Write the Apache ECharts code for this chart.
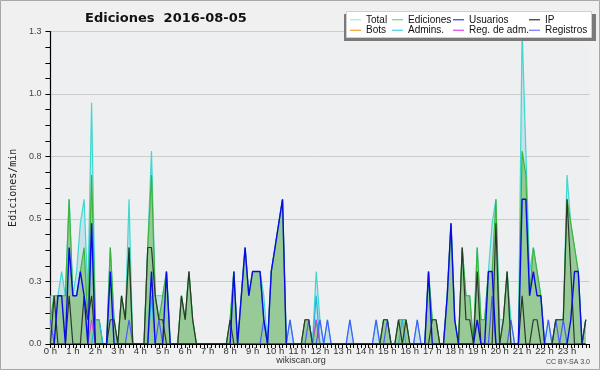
<!DOCTYPE html>
<html><head><meta charset="utf-8">
<script src="https://cdn.jsdelivr.net/npm/echarts@6/dist/echarts.min.js"></script>
<style>html,body{margin:0;padding:0;background:#f0f0f0}#c{width:600px;height:370px}</style>
</head><body><div id="c"></div>
<script>
const hourLabels = ['0 h','1 h','2 h','3 h','4 h','5 h','6 h','7 h','8 h','9 h','10 h','11 h','12 h','13 h','14 h','15 h','16 h','17 h','18 h','19 h','20 h','21 h','22 h','23 h'];
const yTickLabels = ['0.0','0.3','0.5','0.8','1.0','1.3'];
const minuteSteps = ['00','10','20','30','40','50'];
const seriesNames = ['Total','Ediciones','Usuarios','IP','Bots','Admins.','Reg. de adm.','Registros'];

const total = [
.193,.193,.193,.29,.193,.579,.193,.29,.483,.579,.193,.965,
.097,.097,0,0,.386,.097,0,.193,.097,.579,0,0,
0,0,.386,.772,.193,.193,.193,.29,0,0,0,.193,
.097,.29,.097,0,0,0,0,0,0,0,0,0,
.097,.29,0,.193,.386,.193,.29,.29,.29,.193,0,.29,
.386,.483,.579,0,.097,0,0,0,.097,.097,0,.29,
.097,0,.097,0,0,0,0,0,.097,0,0,0,
0,0,0,.097,0,.097,.097,0,0,.097,.097,.097,
0,0,.097,0,0,.29,.097,.097,0,0,.193,.483,
.097,0,.386,.193,.193,0,.386,.097,.097,.29,.483,.579,
.097,.097,.29,.097,0,0,1.255,.772,.29,.386,.29,.193,
0,.097,0,.097,.097,.097,.676,.483,.386,.29,0,.097];

const ediciones = [
.097,.193,.193,.193,.193,.579,.193,.193,.29,.386,.097,.676,
.097,.097,0,0,.386,.097,0,.193,.097,.386,0,0,
0,0,.386,.676,.193,.097,.193,.29,0,0,0,.193,
.097,.29,.097,0,0,0,0,0,0,0,0,0,
.097,.29,0,.193,.386,.193,.29,.29,.29,.097,0,.29,
.386,.483,.579,0,0,0,0,0,.097,.097,0,.097,
0,0,0,0,0,0,0,0,0,0,0,0,
0,0,0,0,0,.097,.097,0,0,.097,.097,.097,
0,0,0,0,0,.29,.097,.097,0,0,.193,.483,
.097,0,.386,.193,.193,0,.386,.097,.097,.29,.29,.579,
0,.097,.29,0,0,0,.772,.676,.193,.386,.29,.193,
0,0,0,.097,.097,.097,.579,.483,.386,.29,0,.097];

const usuarios = [
0,0,.193,.193,0,.386,.193,.193,.29,.193,0,.483,
0,0,0,0,.29,0,0,0,0,0,0,0,
0,0,0,.29,0,0,0,.29,0,0,0,0,
0,0,0,0,0,0,0,0,0,0,0,0,
0,.29,0,.193,.386,.193,.29,.29,.29,.097,0,.29,
.386,.483,.579,0,0,0,0,0,0,0,0,0,
0,0,0,0,0,0,0,0,0,0,0,0,
0,0,0,0,0,0,0,0,0,0,0,0,
0,0,0,0,0,.29,0,0,0,0,.193,.483,
.097,0,0,0,0,0,.097,0,0,.29,.29,0,
0,0,0,0,0,0,.579,.579,.193,.29,.193,.193,
0,0,0,0,0,0,0,.097,.29,.29,0,0];

const ip = [
0,.193,0,0,0,.193,0,0,0,.193,.097,.193,
0,0,0,0,.097,.097,0,.193,.097,.386,0,0,
0,0,.386,.386,.193,.097,.097,0,0,0,0,.193,
.097,.29,.097,0,0,0,0,0,0,0,0,0,
.097,0,0,0,0,0,0,0,0,0,0,0,
0,0,0,0,0,0,0,0,.097,.097,0,0,
0,0,0,0,0,0,0,0,0,0,0,0,
0,0,0,0,0,.097,.097,0,0,.097,0,.097,
0,0,0,0,0,0,.097,.097,0,0,0,0,
0,0,.386,.097,.097,0,.29,0,0,0,0,.483,
0,.097,.29,0,0,0,.193,0,0,.097,.097,0,
0,0,0,.097,.097,.097,.579,.29,0,0,0,.097];

const bots = [
0,0,0,0,0,0,0,0,0,0,0,0, 0,0,0,0,0,0,0,0,0,0,0,0,
0,0,0,0,0,0,0,0,0,0,0,0, 0,0,0,0,0,0,0,0,0,0,0,0,
0,0,0,0,0,0,0,0,0,0,0,0, 0,0,0,0,0,0,0,0,0,0,0,0,
0,0,0,0,0,0,0,0,0,0,0,0, 0,0,0,0,0,0,0,0,0,0,0,0,
0,0,0,0,0,0,0,0,0,0,0,0, 0,0,0,0,0,0,0,0,0,0,0,0,
0,0,0,0,0,0,0,0,0,0,0,0, 0,0,0,0,0,0,0,0,0,0,0,0];

const admins = [
0,0,0,0,0,0,0,0,0,0,0,0,
.097,.097,0,0,0,0,0,0,0,0,0,0,
0,0,0,.193,0,0,0,0,0,0,0,0,
0,0,0,0,0,0,0,0,0,0,0,0,
0,0,0,0,0,0,0,0,0,0,0,0,
0,0,0,0,0,0,0,0,0,0,0,.193,
0,0,0,0,0,0,0,0,0,0,0,0,
0,0,0,0,0,0,0,0,0,0,.097,0,
0,0,0,0,0,0,0,0,0,0,0,0,
0,0,0,0,0,0,0,0,0,0,0,0,
0,0,0,0,0,0,0,0,0,0,0,0,
0,0,0,0,0,0,0,0,0,0,0,0];

const regAdm = [
0,0,0,0,0,0,0,0,0,0,0,.097,
0,0,0,0,0,0,0,0,0,0,0,0,
0,0,0,0,0,0,0,0,0,0,0,0,
0,0,0,0,0,0,0,0,0,0,0,0,
0,0,0,0,0,0,0,0,0,0,0,0,
0,0,0,0,0,0,0,0,0,0,0,.097,
0,0,0,0,0,0,0,0,0,0,0,0,
0,0,0,0,0,0,0,0,0,0,0,0,
0,0,0,0,0,0,0,0,0,0,0,0,
0,0,0,0,0,0,0,0,0,0,0,0,
0,0,0,0,0,0,0,0,0,0,0,0,
0,0,0,0,0,0,0,0,0,0,0,0];

const registros = [
.097,0,0,0,0,0,0,0,0,0,0,0,
0,0,0,0,0,0,0,0,0,.097,0,0,
0,0,0,0,0,.097,0,0,0,0,0,0,
0,0,0,0,0,0,0,0,0,0,0,0,
0,0,0,0,0,0,0,0,0,.097,0,0,
0,0,0,0,.097,0,0,0,0,.097,0,0,
.097,0,.097,0,0,0,0,0,.097,0,0,0,
0,0,0,.097,0,0,.097,0,0,0,0,0,
0,0,.097,0,0,0,0,0,0,0,0,0,
0,0,0,0,0,0,0,0,0,0,.193,0,
0,0,0,.097,0,0,0,0,0,0,0,0,
0,.097,0,.097,0,.097,0,0,0,0,0,.097];

// category axis: one slot per 10 minutes, plus the closing 24:00 boundary
const times = [];
hourLabels.forEach((h, hi) => minuteSteps.forEach(m => times.push(hi + ':' + m)));
times.push('24:00');

const chart = echarts.init(document.getElementById('c'), null, {renderer: 'canvas'});
const FONT = 'Liberation Sans';

function lineSeries(name, data, color, width, z, area) {
  const s = {
    name, type: 'line', data, symbol: 'none', smooth: false, clip: false,
    lineStyle: {color, width}, itemStyle: {color}, z, animation: false
  };
  if (area) s.areaStyle = {color: area, opacity: 1};
  return s;
}

function legendCol(left, items) {
  return {
    left, top: 14.5, orient: 'vertical', itemGap: 0, itemWidth: 11, itemHeight: 1.2,
    icon: 'rect', padding: 0, selectedMode: false, z: 30,
    textStyle: {fontFamily: FONT, fontSize: 10, color: '#111', lineHeight: 10.5},
    data: items.map(([n, c]) => ({name: n, itemStyle: {color: c}}))
  };
}

chart.setOption({
  backgroundColor: '#f0f0f0',
  animation: false,
  title: {
    text: 'Ediciones  2016-08-05', left: 85, top: 12, padding: 0,
    textStyle: {fontFamily: 'DejaVu Sans', fontWeight: 'bold', fontSize: 13, color: '#111'}
  },
  legend: [
    legendCol(350, [[seriesNames[0], '#a6e8e4'], [seriesNames[4], '#f0a030']]),
    legendCol(392, [[seriesNames[1], '#80d080'], [seriesNames[5], '#40d0e6']]),
    legendCol(453, [[seriesNames[2], '#3838f0'], [seriesNames[6], '#e040f0']]),
    legendCol(529, [[seriesNames[3], '#303030'], [seriesNames[7], '#7070ff']])
  ],
  grid: {left: 46, right: 10.5, top: 31.5, bottom: 26, show: true,
         backgroundColor: '#eeeff1', borderWidth: 0},
  xAxis: {
    type: 'category', data: times, boundaryGap: false, z: 10,
    axisLine: {lineStyle: {color: '#000', width: 1.2}},
    axisTick: {show: true, interval: 0, length: 4, lineStyle: {color: '#000'}},
    axisLabel: {
      interval: (i) => i % 6 === 0 && i < 144,
      formatter: (v, i) => hourLabels[i / 6] || '',
      fontFamily: FONT, fontSize: 9.5, color: '#333', margin: 2
    },
    splitLine: {show: false}
  },
  yAxis: {
    type: 'value', min: 0, max: 1.25, interval: 0.25,
    name: 'Ediciones/min', nameLocation: 'middle', nameRotate: 90, nameGap: 32,
    nameTextStyle: {fontFamily: 'DejaVu Sans Mono', fontSize: 10, color: '#222'},
    axisLine: {show: true, lineStyle: {color: '#000', width: 1.2}},
    axisTick: {show: true, length: 5, lineStyle: {color: '#000'}},
    minorTick: {show: true, splitNumber: 4, length: 5, lineStyle: {color: '#000'}},
    axisLabel: {formatter: (v) => yTickLabels[Math.round(v / 0.25)], fontFamily: FONT,
                fontSize: 9, color: '#444', margin: 9},
    splitLine: {lineStyle: {color: '#cccccc', width: 1}}
  },
  series: [
    lineSeries(seriesNames[0], total, '#3fd8cf', 1.2, 2, '#c6e1ea'),
    lineSeries(seriesNames[1], ediciones, '#3cb43c', 1.2, 3, '#97ca97'),
    lineSeries(seriesNames[4], bots, '#f0a030', 1, 4),
    lineSeries(seriesNames[5], admins, '#22b4e6', 1.2, 5),
    lineSeries(seriesNames[6], regAdm, '#d040e0', 1, 5),
    lineSeries(seriesNames[7], registros, '#4a58ff', 1.2, 6),
    lineSeries(seriesNames[3], ip, '#2b372b', 1.2, 7),
    lineSeries(seriesNames[2], usuarios, '#0a0ae8', 1.4, 8)
  ],
  graphic: [
    {type: 'rect', z: 25, shape: {x: 344, y: 14, width: 252, height: 27}, style: {fill: '#7a7a7a'}},
    {type: 'rect', z: 26, shape: {x: 346.5, y: 11.5, width: 245, height: 26},
     style: {fill: '#ffffff', stroke: '#d0d0d0', lineWidth: 1}},
    {type: 'text', z: 30, x: 301, y: 361,
     style: {text: 'wikiscan.org', fontFamily: FONT, fontSize: 9, fill: '#333',
             textAlign: 'center', textVerticalAlign: 'middle'}},
    {type: 'text', z: 30, x: 590, y: 362,
     style: {text: 'CC BY-SA 3.0', fontFamily: FONT, fontSize: 7, fill: '#444',
             textAlign: 'right', textVerticalAlign: 'middle'}},
    {type: 'rect', z: 40, silent: true, shape: {x: 0.5, y: 0.5, width: 599, height: 369},
     style: {fill: 'none', stroke: '#a8a8a8', lineWidth: 1}}
  ]
});
</script></body></html>
